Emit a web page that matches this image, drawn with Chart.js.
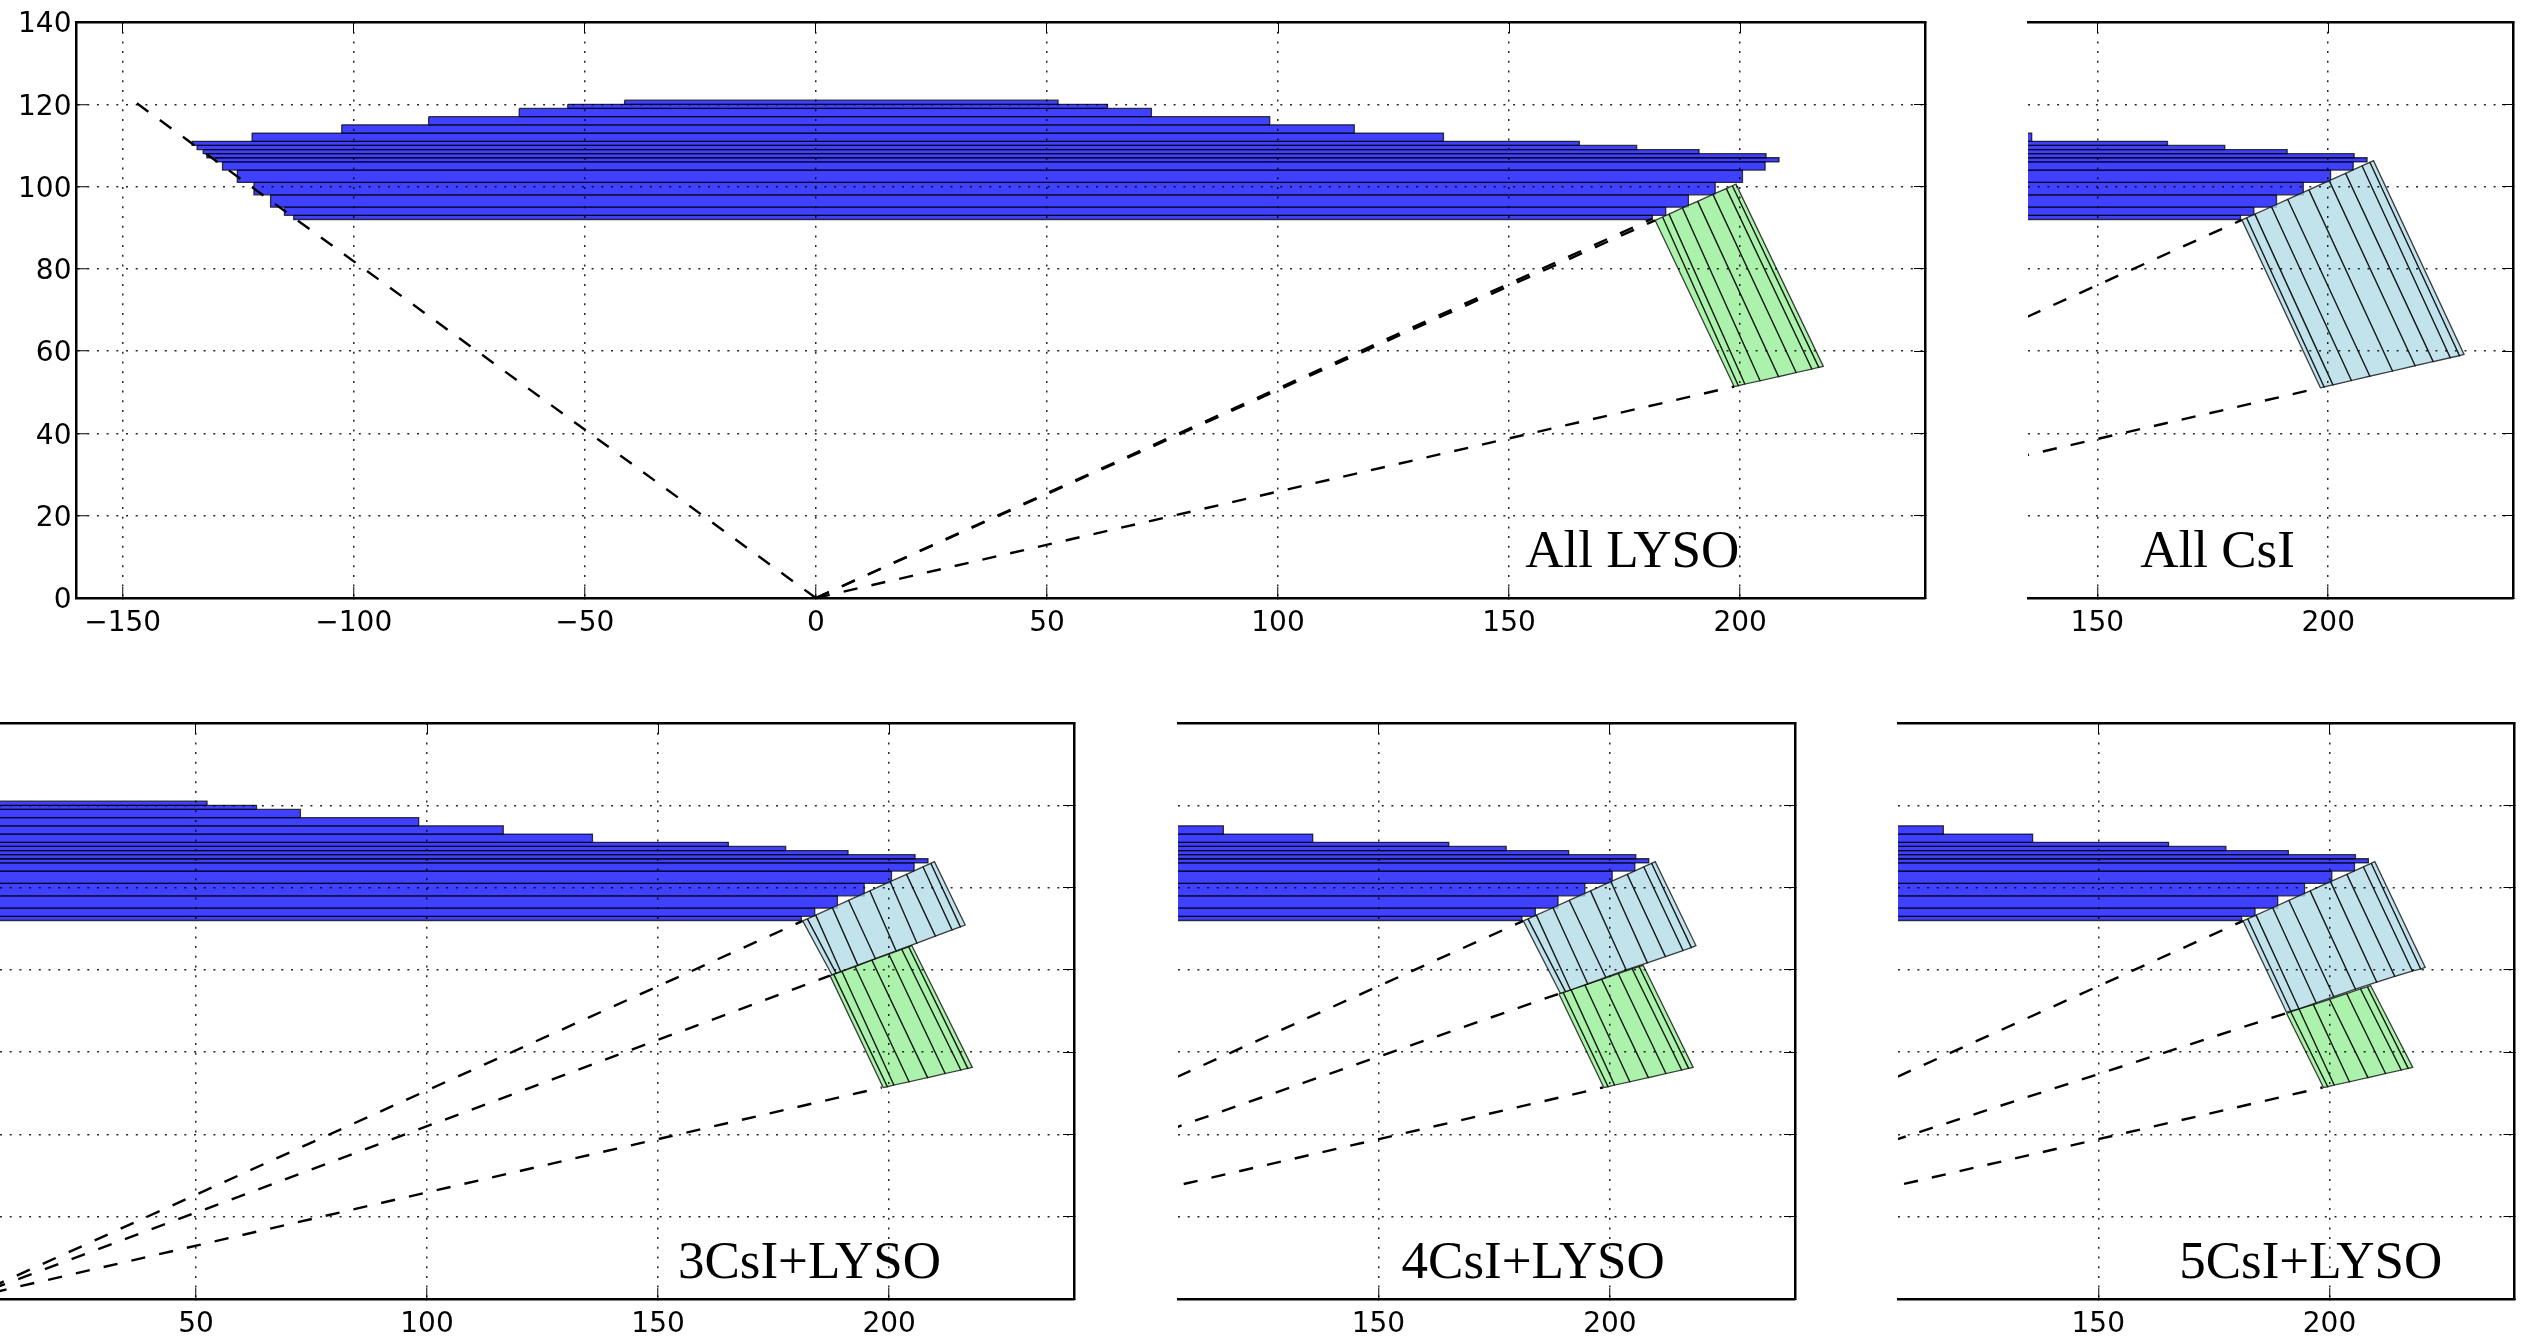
<!DOCTYPE html>
<html><head><meta charset="utf-8">
<style>html,body{margin:0;padding:0;background:#fff;overflow:hidden;width:2524px;height:1336px}
.p{position:absolute}</style>
<script src="https://cdn.jsdelivr.net/npm/chart.js@4"></script></head><body>
<script>
const panelTitles=["All LYSO","All CsI","3CsI+LYSO","4CsI+LYSO","5CsI+LYSO"];
const xTickValues=[-150,-100,-50,0,50,100,150,200];
const yTickValues=[0,20,40,60,80,100,120,140];
// blue barrel strips
const stripEdgesY=[121,120,119,117,115,113,111,110,109,108,107,106,104,101,98,95,93,92];
const stripLeft=[-41.4,-53.7,-64.2,-83.8,-102.6,-122,-135,-133.9,-132.6,-131.8,-129.9,-128.4,-125.2,-121.6,-118,-115,-113];
const stripRight=[52.4,63.1,72.6,98.2,116.5,135.8,165.2,177.6,191.1,205.6,208.4,205.4,200.5,194.6,188.8,183.9,181];
// CsI crystals: front face and back face
const csiFrontX=[181.3,182.3,184.1,187.7,191.2,195.8,200.2,203.75,207.3,209,209.8];
const csiFrontY=[91.9,92.4,93.3,95.1,96.9,99.2,101.45,103.2,105.05,105.9,106.3];
const csiBackX=[198.3,199.1,201,205,209,213.9,218.8,222.7,226.4,228.4,229.4];
const csiBackY=[51.1,51.3,51.8,52.85,53.9,55.15,56.45,57.45,58.4,58.9,59.2];
const csi3BackX=[187.6,188.5,189.5,193.2,197,201.5,206,210,213.6,215.4,216.45];
const csi3BackY=[78.8,79.2,79.6,81.15,82.75,84.6,86.5,88.2,89.7,90.45,90.9];
const csi4BackX=[189.3,190.4,191.5,195.2,199.1,203.5,208.1,212,215.8,217.6,218.6];
const csi4BackY=[74.3,74.7,75.1,76.6,78.2,80,81.7,83.2,84.7,85.4,85.9];
const csi5BackX=[190.7,191.6,193.4,197.1,200.9,205.6,210.2,214.1,217.9,219.7,220.7];
const csi5BackY=[69.7,70,70.5,72,73.5,75.3,77,78.4,79.7,80.2,80.6];
// LYSO crystals
const lysoFrontX=[181.6,183.2,184.6,187.5,190.8,194.1,197,198.3,199.1];
const lysoFrontY=[91.8,92.6,93.3,94.8,96.4,98.1,99.5,100.2,100.6];
const lysoBackX=[198.7,199.6,201,204.3,208.3,212.1,215.5,217,218];
const lysoBackY=[51.4,51.6,52,52.8,53.8,54.8,55.65,56.05,56.3];
const lyso3FrontX=[187.2,188,189.75,192.6,196.25,199.9,202.7,204.2,204.9];
const lyso3FrontY=[78.6,78.9,79.65,80.8,82.35,83.85,85,85.6,85.9];
const lyso4FrontX=[189,189.9,191.6,194.6,198.2,201.8,204.8,206.3,207.2];
const lyso4FrontY=[74.15,74.5,75.2,76.3,77.7,79.1,80.25,80.8,81.1];
const lyso5FrontX=[190.7,191.6,193.4,196.5,200,203.7,206.7,208.2,208.9];
const lyso5FrontY=[69.45,69.8,70.5,71.55,72.85,74.25,75.35,75.85,76.2];
// dashed acceptance rays: end points, all start at the origin
const rays1=[[-147.5,120.7],[181,92.2],[181.6,91.8],[198.7,51.4]];
const rays2=[[181.3,91.9],[198.3,51.1]];
const rays3=[[181.3,91.9],[187.2,78.6],[198.4,51.4]];
const rays4=[[181.3,91.9],[189,74.2],[198.5,51.4]];
const rays5=[[181.3,91.9],[190.7,69.5],[198.5,51.4]];
const xRange=[[-160,240],[135,240],[7.6,240],[106.7,240],[106.7,240]];
const yRange=[0,140];

const BLUE='rgba(0,0,255,0.75)',GREEN='rgba(144,238,144,0.75)',LBLUE='rgba(173,216,230,0.75)',EDGE='rgba(0,0,0,0.75)';
function poly(pts,fill,order){return {data:pts.concat([pts[0]]),showLine:true,fill:'shape',backgroundColor:fill,borderColor:EDGE,borderWidth:1.3,pointRadius:0,tension:0,order};}
function crystals(fx,fy,bx,by,color){const out=[];for(let i=0;i<fx.length-1;i++){out.push(poly([{x:fx[i],y:fy[i]},{x:fx[i+1],y:fy[i+1]},{x:bx[i+1],y:by[i+1]},{x:bx[i],y:by[i]}],color,2));}return out;}
function strips(){const out=[];for(let i=0;i<stripLeft.length;i++){out.push(poly([{x:stripLeft[i],y:stripEdgesY[i]},{x:stripRight[i],y:stripEdgesY[i]},{x:stripRight[i],y:stripEdgesY[i+1]},{x:stripLeft[i],y:stripEdgesY[i+1]}],BLUE,3));}return out;}
function rays(list){return list.map(r=>({data:[{x:0,y:0},{x:r[0],y:r[1]}],showLine:true,fill:false,borderColor:'#000',borderWidth:2.4,borderDash:[14.24,14.24],pointRadius:0,order:1}));}

const FONT={family:'"DejaVu Sans"',size:28};
const panels=[
 {left:0,top:0,w:1960,h:680,aL:76.5,aR:1925,aT:22,aB:598,leftAxis:true,title:[153.5,7.5],
  ds:[...strips(),...crystals(lysoFrontX,lysoFrontY,lysoBackX,lysoBackY,GREEN),...rays(rays1)]},
 {left:1990,top:0,w:534,h:680,aL:2028,aR:2513,aT:22,aB:598,title:[159.3,7.5],
  ds:[...strips(),...crystals(csiFrontX,csiFrontY,csiBackX,csiBackY,LBLUE),...rays(rays2)]},
 {left:0,top:690,w:1110,h:646,aL:0,aR:1074,aT:723,aB:1299,title:[154.3,5.1],
  ds:[...strips(),...crystals(csiFrontX,csiFrontY,csi3BackX,csi3BackY,LBLUE),...crystals(lyso3FrontX,lyso3FrontY,lysoBackX,lysoBackY,GREEN),...rays(rays3)]},
 {left:1140,top:690,w:700,h:646,aL:1178,aR:1795,aT:723,aB:1299,title:[155,5.1],
  ds:[...strips(),...crystals(csiFrontX,csiFrontY,csi4BackX,csi4BackY,LBLUE),...crystals(lyso4FrontX,lyso4FrontY,lysoBackX,lysoBackY,GREEN),...rays(rays4)]},
 {left:1860,top:690,w:664,h:646,aL:1898,aR:2514.5,aT:723,aB:1299,title:[167.5,5.1],
  ds:[...strips(),...crystals(csiFrontX,csiFrontY,csi5BackX,csi5BackY,LBLUE),...crystals(lyso5FrontX,lyso5FrontY,lysoBackX,lysoBackY,GREEN),...rays(rays5)]}
];
const titlePlugin={id:'panelTitle',afterDatasetsDraw(c,a,o){const {ctx,scales:{x,y}}=c;ctx.save();ctx.fillStyle='#000';ctx.font='53px "Liberation Serif"';ctx.textBaseline='alphabetic';ctx.textAlign='left';ctx.fillText(o.text,x.getPixelForValue(o.x),y.getPixelForValue(o.y));ctx.restore();}};
function minus(v){return String(v).replace('-','\u2212');}
function noPad(s){s.paddingTop=0;s.paddingBottom=0;s.paddingLeft=0;s.paddingRight=0;if(s._margins){s._margins.top=0;s._margins.bottom=0;s._margins.left=0;s._margins.right=0;}}
panels.forEach((p,i)=>{
 const d=document.createElement('div');d.className='p';d.style.cssText=`left:${p.left}px;top:${p.top}px;width:${p.w}px;height:${p.h}px`;
 const cv=document.createElement('canvas');d.appendChild(cv);document.body.appendChild(d);
 const setX=s=>{s.ticks=xTickValues.filter(v=>v>=xRange[i][0]&&v<=xRange[i][1]).map(v=>({value:v}));};
 const setY=s=>{s.ticks=yTickValues.map(v=>({value:v}));};
 const gridOpts={color:'rgba(0,0,0,0.85)',lineWidth:1.5,z:1,tickColor:'#000',tickWidth:1,tickLength:-11,drawTicks:true};
 const bord={color:'#000',width:2.5,dash:[2,7.7],z:2};
 const sideOpts=(axis)=>({type:'linear',afterBuildTicks:axis==='x'?setX:setY,grid:{drawOnChartArea:false,tickColor:'#000',tickWidth:1,tickLength:-11},border:{color:'#000',width:2.5,z:2},ticks:{display:false,autoSkip:false},
   min:axis==='x'?xRange[i][0]:yRange[0],max:axis==='x'?xRange[i][1]:yRange[1]});
 new Chart(cv,{type:'scatter',plugins:[titlePlugin],
  data:{datasets:p.ds},
  options:{responsive:true,maintainAspectRatio:false,animation:false,events:[],
   layout:{autoPadding:false,padding:{left:p.leftAxis?0:p.aL-p.left,right:p.left+p.w-p.aR,top:p.aT-p.top,bottom:0}},
   plugins:{legend:{display:false},tooltip:{enabled:false},panelTitle:{text:panelTitles[i],x:p.title[0],y:p.title[1]}},
   scales:{
    x:{type:'linear',position:'bottom',min:xRange[i][0],max:xRange[i][1],afterBuildTicks:setX,grid:gridOpts,border:bord,
       ticks:{autoSkip:false,maxRotation:0,color:'#000',font:FONT,padding:20,callback:minus},
       afterFit(s){noPad(s);s.height=p.top+p.h-p.aB;}},
    y:{type:'linear',position:'left',min:yRange[0],max:yRange[1],afterBuildTicks:setY,grid:p.leftAxis?gridOpts:{...gridOpts,drawTicks:false},
       border:p.leftAxis?bord:{...bord,width:0},
       ticks:{display:!!p.leftAxis,autoSkip:false,color:'#000',font:FONT,padding:16,labelOffset:3,callback:minus},
       afterFit(s){noPad(s);s.width=p.leftAxis?p.aL:0;}},
    x2:{...sideOpts('x'),axis:'x',position:'top',afterFit(s){noPad(s);s.height=0;}},
    y2:{...sideOpts('y'),axis:'y',position:'right',afterFit(s){noPad(s);s.width=0;}}
   }}});
});
</script></body></html>
